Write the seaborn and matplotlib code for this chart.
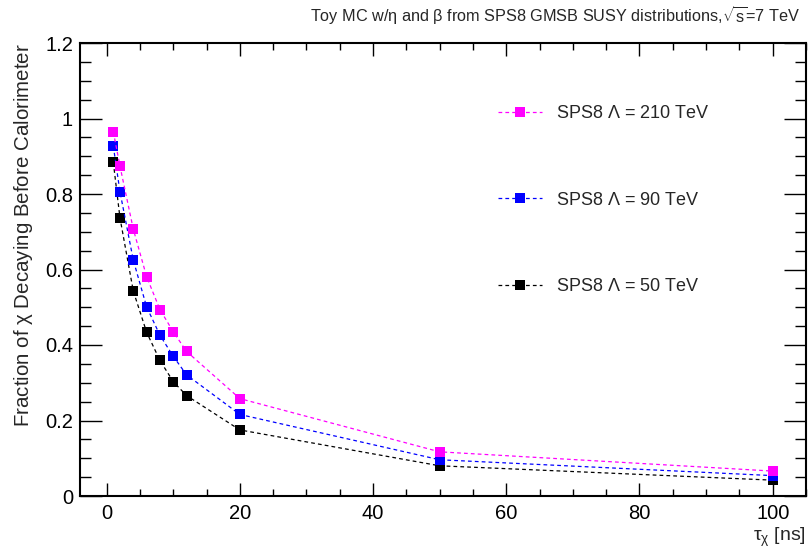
import numpy as np
import pandas as pd
import matplotlib
matplotlib.use("Agg")
import matplotlib.pyplot as plt
import seaborn as sns
from matplotlib.ticker import MultipleLocator

tau = [1, 2, 4, 6, 8, 10, 12, 20, 50, 100]
frac_210 = [0.965, 0.874, 0.707, 0.581, 0.494, 0.435, 0.383, 0.258, 0.117, 0.066]
frac_90 = [0.927, 0.806, 0.625, 0.501, 0.426, 0.370, 0.321, 0.216, 0.096, 0.054]
frac_50 = [0.884, 0.737, 0.543, 0.434, 0.359, 0.303, 0.266, 0.175, 0.080, 0.042]
labels = [r"SPS8 $\Lambda$ = 210 TeV", r"SPS8 $\Lambda$ = 90 TeV", r"SPS8 $\Lambda$ = 50 TeV"]
colors = ["#ff00ff", "#0000ff", "#000000"]

sns.set_style("ticks")
plt.rcParams["font.family"] = ["Liberation Sans", "DejaVu Sans"]
plt.rcParams["mathtext.fontset"] = "custom"
plt.rcParams["mathtext.rm"] = "Liberation Sans"
plt.rcParams["mathtext.it"] = "Liberation Sans"
plt.rcParams["mathtext.bf"] = "Liberation Sans:bold"

fig = plt.figure(figsize=(8.09, 5.5), dpi=100)
ax = fig.add_axes([80/809, 54/550, 726/809, 453/550])

series = [frac_210, frac_90, frac_50]
for i in [2, 1, 0]:
    df = pd.DataFrame({"tau": tau, "frac": series[i]})
    sns.lineplot(data=df, x="tau", y="frac", ax=ax, color=colors[i], marker="s",
                 markersize=7.5, markeredgewidth=0, linestyle=(0, (3, 2.5)),
                 linewidth=0.9, label=labels[i], legend=False)
lines = ax.get_lines()
order = [lines[2], lines[1], lines[0]]
leg = ax.legend(order, labels, loc="upper left",
                bbox_to_anchor=(498/809, 1 - 105/550), bbox_transform=fig.transFigure,
                frameon=False, fontsize=13, borderpad=0, borderaxespad=0,
                labelspacing=3.85, handlelength=2.44, handletextpad=0.78)

ax.set_xlim(-4, 105)
ax.set_ylim(0, 1.2)
ax.xaxis.set_major_locator(MultipleLocator(20))
ax.xaxis.set_minor_locator(MultipleLocator(5))
ax.yaxis.set_minor_locator(MultipleLocator(0.05))
ax.set_yticks([0, 0.2, 0.4, 0.6, 0.8, 1.0, 1.2])
ax.set_yticklabels(["0", "0.2", "0.4", "0.6", "0.8", "1", "1.2"])
ax.tick_params(axis="both", which="both", direction="in", top=True, right=True,
               labelsize=14.5, width=1, colors="black")
ax.tick_params(axis="x", which="major", length=9.4, pad=6)
ax.tick_params(axis="x", which="minor", length=5)
ax.tick_params(axis="y", which="major", length=15.8, pad=5)
ax.tick_params(axis="y", which="minor", length=7.9)
for s in ax.spines.values():
    s.set_linewidth(1.5)
    s.set_color("black")
    s.set_visible(True)

ax.set_xlabel(r"$\tau_{\chi}$ [ns]", fontsize=14, loc="right", labelpad=2)
ax.set_ylabel(r"Fraction of $\chi$ Decaying Before Calorimeter", fontsize=14.8, loc="top", labelpad=7)

fig.text(800/809, 1 - 16/550, r"Toy MC w/$\eta$ and $\beta$ from SPS8 GMSB SUSY distributions,$\sqrt{s}$=7 TeV",
         ha="right", va="center", fontsize=11.7)

fig.savefig("out.png", dpi=100)
